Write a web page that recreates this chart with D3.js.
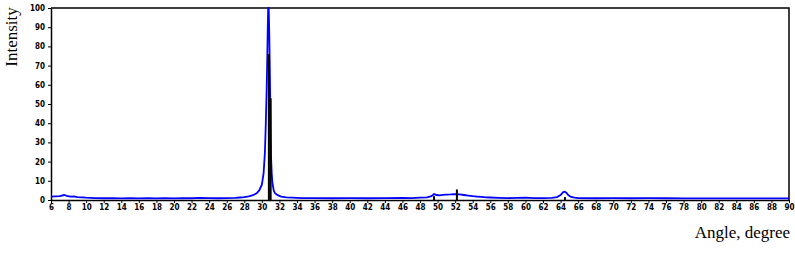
<!DOCTYPE html>
<html><head><meta charset="utf-8">
<script src="https://cdn.jsdelivr.net/npm/d3@7"></script>
<style>body{margin:0;background:#fff}svg{display:block}</style>
</head><body>
<script>
const angles = [6.0,6.5,7.0,7.5,7.8,8.2,8.6,9.0,9.5,10.0,10.5,11,12,13,14,15,16,17,18,19,20,21,22,23,24,25,26,27,27.5,28,28.5,29,29.4,29.7,30.0,30.2,30.35,30.45,30.55,30.62,30.68,30.72,30.78,30.85,30.9,30.95,31.0,31.05,31.12,31.2,31.35,31.5,31.8,32.2,32.8,33.5,34.5,36,38,40,42,44,46,47,48,48.8,49.3,49.6,49.9,50.2,50.6,51,51.5,52,52.5,53,53.5,54,54.5,55,55.5,56,57,58,59,60,61,62,63,63.6,64,64.3,64.5,64.7,64.9,65.2,65.6,66,68,70,72,74,76,78,80,82,84,86,88,90];
const intensity = [1.8,1.9,2.0,2.6,2.2,1.8,1.9,1.5,1.4,1.2,1.1,1.0,0.9,1.0,0.8,0.9,0.8,1.0,0.8,0.9,0.8,1.0,0.9,1.1,1.0,0.9,1.0,1.1,1.3,1.5,1.9,2.5,3.5,5,8,14,25,40,58,75,92,100,100,85,70,52,35,22,14,9,5,3.5,2.5,1.8,1.4,1.2,1.0,1.0,0.9,1.0,0.9,1.0,1.1,1.0,1.2,1.4,2.0,3.1,2.6,2.4,2.7,2.8,2.9,3.1,2.9,2.6,2.3,2.0,1.8,1.6,1.4,1.3,1.1,1.0,1.1,1.2,1.0,1.0,1.1,1.5,2.6,4.1,4.3,3.6,2.4,1.6,1.2,1.0,0.9,1.0,0.9,1.0,0.9,0.8,0.8,0.8,0.8,0.8,0.8,0.8];
const stickAngles = [30.8, 31.0, 49.6, 52.2, 64.5];
const stickValues = [76, 53, 2, 5.5, 1.5];
const xTicks = d3.range(6, 91, 2);
const yTicks = d3.range(0, 101, 10);

const W = 795, H = 253;
const svg = d3.select("body").append("svg").attr("width", W).attr("height", H);
const x = d3.scaleLinear().domain([6, 90]).range([51, 789]);
const y = d3.scaleLinear().domain([0, 100]).range([200, 8]);

const tickFont = "'DejaVu Sans Condensed','DejaVu Sans',sans-serif";

// x axis
const xa = svg.append("g").attr("transform", "translate(0,200)")
  .call(d3.axisBottom(x).tickValues(xTicks).tickSize(3).tickSizeOuter(0).tickFormat(d3.format("d")));
xa.select(".domain").attr("stroke", "#000").attr("stroke-width", 1.5);
xa.selectAll("text").attr("font-family", tickFont).attr("font-size", 8).attr("font-weight", "bold").attr("dy", "0.6em").attr("y", 5).attr("fill", "#000");

// y axis
const ya = svg.append("g").attr("transform", "translate(51,0)")
  .call(d3.axisLeft(y).tickValues(yTicks).tickSize(3).tickSizeOuter(0).tickFormat(d3.format("d")));
ya.select(".domain").attr("stroke", "#000").attr("stroke-width", 1.5);
ya.selectAll("text").attr("font-family", tickFont).attr("font-size", 8).attr("font-weight", "bold").attr("x", -6).attr("fill", "#000");

// frame top/right
svg.append("path").attr("d", `M${x(6)},${y(100)}H${x(90)}V${y(0)}`).attr("fill", "none").attr("stroke", "#000").attr("stroke-width", 1.5);

// data line
const pts = angles.map((a, i) => [a, intensity[i]]);
svg.append("path").datum(pts)
  .attr("d", d3.line().x(d => x(d[0])).y(d => y(d[1])))
  .attr("fill", "none").attr("stroke", "#0000ff").attr("stroke-width", 1.8);

// sticks
svg.selectAll(".stick").data(stickAngles.map((a, i) => [a, stickValues[i]])).enter()
  .append("line").attr("x1", d => x(d[0])).attr("x2", d => x(d[0]))
  .attr("y1", y(0)).attr("y2", d => y(d[1]))
  .attr("stroke", "#000").attr("stroke-width", 2);

// axis titles
svg.append("text").attr("transform", "translate(17,37) rotate(-90)")
  .attr("text-anchor", "middle").attr("font-family", "'Liberation Serif',serif").attr("font-size", 17).text("Intensity");
svg.append("text").attr("x", 790).attr("y", 238).attr("text-anchor", "end")
  .attr("font-family", "'Liberation Serif',serif").attr("font-size", 17).text("Angle, degree");
</script>
</body></html>
